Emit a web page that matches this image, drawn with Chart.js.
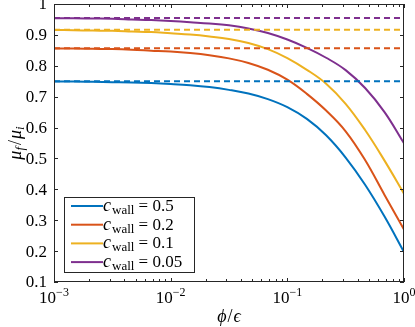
<!DOCTYPE html>
<html>
<head>
<meta charset="utf-8">
<script src="https://cdn.jsdelivr.net/npm/chart.js@4.4.0/dist/chart.umd.min.js"></script>
<style>
  html, body { margin: 0; padding: 0; background: #fff; }
  #wrap { width: 415px; height: 327px; }
</style>
</head>
<body>
<div id="wrap"><canvas id="chart" width="415" height="327"></canvas></div>
<script>
// phi/epsilon sample points (log axis, six per decade)
const phiOverEps = [0.001, 0.00147, 0.00215, 0.00316, 0.00464, 0.00681,
                    0.01, 0.0147, 0.0215, 0.0316, 0.0464, 0.0681,
                    0.1, 0.147, 0.215, 0.316, 0.464, 0.681, 1];

// mu_f/mu_i, one array per wall concentration
const cWall = ['0.5', '0.2', '0.1', '0.05'];
const mu05  = [0.749, 0.749, 0.748, 0.747, 0.746, 0.744, 0.741, 0.737, 0.731, 0.722, 0.710, 0.692,
               0.666, 0.628, 0.575, 0.503, 0.415, 0.312, 0.197];
const mu02  = [0.856, 0.856, 0.855, 0.854, 0.852, 0.849, 0.846, 0.841, 0.834, 0.824, 0.809, 0.787,
               0.755, 0.709, 0.655, 0.588, 0.495, 0.382, 0.270];
const mu01  = [0.916, 0.915, 0.914, 0.913, 0.911, 0.909, 0.905, 0.901, 0.895, 0.887, 0.874, 0.854,
               0.825, 0.787, 0.742, 0.677, 0.592, 0.493, 0.386];
const mu005 = [0.954, 0.954, 0.953, 0.952, 0.950, 0.948, 0.945, 0.941, 0.937, 0.931, 0.921, 0.906,
               0.885, 0.858, 0.826, 0.786, 0.728, 0.650, 0.549];

// dashed plateau levels (phi -> 0 limit)
const plateau = [0.75, 0.857, 0.917, 0.955];

const yTicks = [0.1, 0.2, 0.3, 0.4, 0.5, 0.6, 0.7, 0.8, 0.9, 1];
const yTickLabels = ['0.1', '0.2', '0.3', '0.4', '0.5', '0.6', '0.7', '0.8', '0.9', '1'];
const xTicks = [0.001, 0.01, 0.1, 1];
const xTickExp = ['\u22123', '\u22122', '\u22121', '0'];

const colors = ['#0072BD', '#D95319', '#EDB120', '#7E2F8E'];
const series = [mu05, mu02, mu01, mu005];

const SERIF = '"Liberation Serif", "DejaVu Serif", serif';
const AXIS = '#262626';

const datasets = [];
// dashed asymptotes first so the curves sit on top
plateau.forEach((p, i) => {
  datasets.push({
    data: [{ x: phiOverEps[0], y: p }, { x: phiOverEps[phiOverEps.length - 1], y: p }],
    borderColor: colors[i],
    borderWidth: 2,
    borderDash: [6, 4],
    pointRadius: 0,
    fill: false
  });
});
series.forEach((s, i) => {
  datasets.push({
    label: 'c_wall = ' + cWall[i],
    data: s.map((v, k) => ({ x: phiOverEps[k], y: v })),
    borderColor: colors[i],
    borderWidth: 2,
    pointRadius: 0,
    tension: 0.4,
    fill: false
  });
});

// draw a run of text pieces [{t, font, dy}] starting at x
function richWidth(ctx, parts) {
  let w = 0;
  parts.forEach(p => { ctx.font = p.font; w += ctx.measureText(p.t).width + (p.gap || 0); });
  return w;
}
function drawRich(ctx, parts, x, y) {
  parts.forEach(p => {
    ctx.font = p.font;
    ctx.fillText(p.t, x, y + (p.dy || 0));
    x += ctx.measureText(p.t).width + (p.gap || 0);
  });
}

const decorations = {
  id: 'decorations',
  afterDraw(chart) {
    const { ctx, chartArea: a, scales } = chart;
    const xs = scales.x, ys = scales.y;
    ctx.save();
    ctx.strokeStyle = AXIS;
    ctx.fillStyle = AXIS;
    ctx.lineWidth = 1;

    // box
    ctx.strokeRect(Math.round(a.left) + 0.5, Math.round(a.top) + 0.5,
      Math.round(a.right - a.left) - 1, Math.round(a.bottom - a.top) - 1);

    // x ticks (inward, top and bottom), major + minor
    ctx.beginPath();
    for (let d = 0; d < xTicks.length; d++) {
      for (let m = 1; m <= 9; m++) {
        const v = xTicks[d] * m;
        if (v > xTicks[xTicks.length - 1]) break;
        const px = Math.round(xs.getPixelForValue(v)) + 0.5;
        const len = m === 1 ? 4 : 3;
        ctx.moveTo(px, a.bottom); ctx.lineTo(px, a.bottom - len);
        ctx.moveTo(px, a.top); ctx.lineTo(px, a.top + len);
      }
    }
    // y ticks (inward, left and right)
    yTicks.forEach(v => {
      const py = Math.round(ys.getPixelForValue(v)) + 0.5;
      ctx.moveTo(a.left, py); ctx.lineTo(a.left + 4, py);
      ctx.moveTo(a.right, py); ctx.lineTo(a.right - 4, py);
    });
    ctx.stroke();

    // y tick labels
    ctx.fillStyle = '#000';
    ctx.textAlign = 'right';
    ctx.textBaseline = 'middle';
    ctx.font = '17px ' + SERIF;
    yTicks.forEach((v, i) => {
      ctx.fillText(yTickLabels[i], a.left - 7, ys.getPixelForValue(v) + 1);
    });

    // x tick labels 10^n
    ctx.textAlign = 'left';
    ctx.textBaseline = 'alphabetic';
    xTicks.forEach((v, i) => {
      const parts = [
        { t: '10', font: '17px ' + SERIF, dy: 0 },
        { t: xTickExp[i], font: '12px ' + SERIF, dy: -7 }
      ];
      const w = richWidth(ctx, parts);
      drawRich(ctx, parts, xs.getPixelForValue(v) - w / 2, 303);
    });

    // x axis title  phi/epsilon
    const xt = [
      { t: '\u03D5', font: 'italic 18px ' + SERIF, gap: 1 },
      { t: '/', font: '18px ' + SERIF, gap: 1 },
      { t: '\u03F5', font: 'italic 18px ' + SERIF }
    ];
    const xw = richWidth(ctx, xt);
    drawRich(ctx, xt, (a.left + a.right) / 2 - xw / 2, 322);

    // y axis title  mu_f / mu_i (rotated)
    ctx.save();
    ctx.translate(21, (a.top + a.bottom) / 2);
    ctx.rotate(-Math.PI / 2);
    const yt = [
      { t: '\u03BC', font: 'italic 18px ' + SERIF, dy: 0 },
      { t: 'f', font: 'italic 13px ' + SERIF, dy: 3, gap: 2 },
      { t: '/', font: '18px ' + SERIF, dy: 0, gap: 1 },
      { t: '\u03BC', font: 'italic 18px ' + SERIF, dy: 0 },
      { t: 'i', font: 'italic 13px ' + SERIF, dy: 3 }
    ];
    const yw = richWidth(ctx, yt);
    drawRich(ctx, yt, -yw / 2, 0);
    ctx.restore();

    // legend
    const lx = 64, ly = 197, lw = 130, lh = 75;
    ctx.fillStyle = '#fff';
    ctx.fillRect(lx, ly, lw, lh);
    ctx.strokeStyle = AXIS;
    ctx.lineWidth = 1;
    ctx.strokeRect(lx + 0.5, ly + 0.5, lw, lh);
    cWall.forEach((c, i) => {
      const ry = ly + 9 + i * 18.7;
      ctx.strokeStyle = colors[i];
      ctx.lineWidth = 2;
      ctx.beginPath();
      ctx.moveTo(71, ry); ctx.lineTo(103, ry);
      ctx.stroke();
      ctx.fillStyle = '#000';
      drawRich(ctx, [
        { t: 'c', font: 'italic 18px ' + SERIF, dy: 0, gap: 1 },
        { t: 'wall', font: '13px ' + SERIF, dy: 3 },
        { t: ' = ' + c, font: '17px ' + SERIF, dy: 0 }
      ], 103, ry + 5);
    });
    ctx.restore();
  }
};

const ctx = document.getElementById('chart').getContext('2d');
const muChart = new Chart(ctx, {
  type: 'line',
  data: { datasets: datasets },
  options: {
    responsive: false,
    devicePixelRatio: 1,
    animation: false,
    layout: { padding: { left: 54, right: 11, top: 4, bottom: 45 } },
    plugins: {
      legend: { display: false },
      tooltip: { enabled: false }
    },
    scales: {
      x: {
        type: 'logarithmic',
        min: 0.001,
        max: 1,
        ticks: { display: false },
        grid: { display: false, drawTicks: false },
        border: { display: false }
      },
      y: {
        type: 'linear',
        min: 0.1,
        max: 1,
        ticks: { display: false },
        grid: { display: false, drawTicks: false },
        border: { display: false }
      }
    }
  },
  plugins: [decorations]
});
</script>
</body>
</html>
